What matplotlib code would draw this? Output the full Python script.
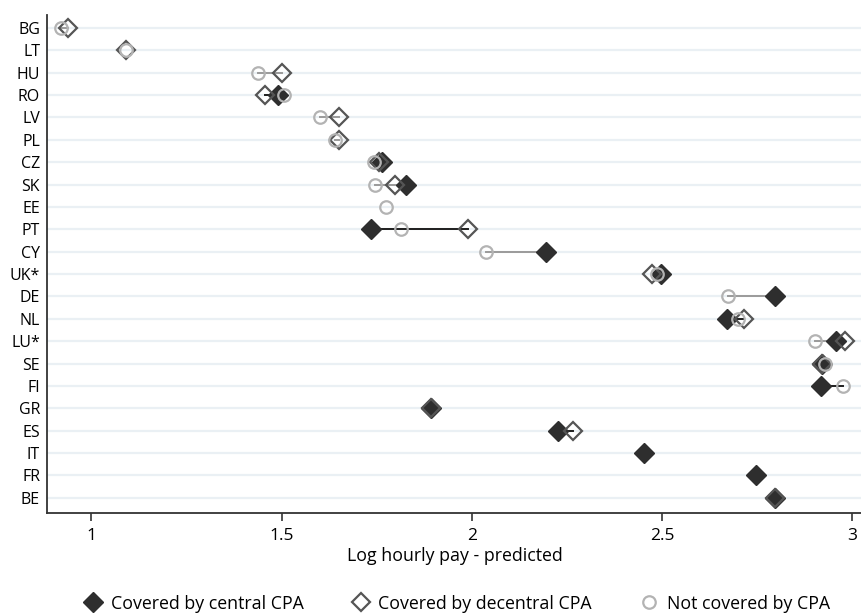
# === IMPORTS ===
import matplotlib
matplotlib.use("Agg")
import matplotlib.pyplot as plt
import numpy as np

# === DATA ===
countries = ["BG", "LT", "HU", "RO", "LV", "PL", "CZ", "SK", "EE", "PT", "CY",
             "UK*", "DE", "NL", "LU*", "SE", "FI", "GR", "ES", "IT", "FR", "BE"]
# nan = no estimate for that group
central = [np.nan, np.nan, np.nan, 1.490, np.nan, np.nan, 1.765, 1.828, np.nan, 1.734, 2.195,
           2.497, 2.797, 2.670, 2.957, 2.922, 2.918, 1.893, 2.226, 2.454, 2.747, 2.797]
decentral = [0.939, 1.092, 1.502, 1.457, 1.651, 1.652, 1.755, 1.799, np.nan, 1.991, np.nan,
             2.473, np.nan, 2.716, 2.982, 2.922, np.nan, 1.893, 2.265, np.nan, np.nan, 2.797]
not_covered = [0.919, 1.092, 1.438, 1.506, 1.602, 1.640, 1.742, 1.746, 1.775, 1.813, 2.038,
               2.486, 2.673, 2.701, 2.902, 2.929, 2.977, np.nan, np.nan, np.nan, np.nan, np.nan]
# colour of the connecting range line: "k" dark, "g" grey
link_type = ["g", "g", "g", "k", "g", "g", "g", "g", "g", "k", "g",
             "k", "g", "k", "g", "k", "k", "g", "k", "g", "g", "g"]

# === STYLE ===
plt.rcParams["font.family"] = ["Open Sans", "DejaVu Sans"]
col_central = "#2e2e2e"
col_decentral = "#555555"
col_notcov = "#b3b3b3"
col_grid = "#eaf0f4"
link_colors = {"k": "#1e1e1e", "g": "#9a9a9a"}

fig = plt.figure(figsize=(8.62, 6.15), dpi=100)
ax = fig.add_axes([0.0545, 0.1663, 0.9455, 0.8093])

y = np.arange(1, len(countries) + 1)
c = np.array(central)
d = np.array(decentral)
n = np.array(not_covered)

for yi in y:
    ax.axhline(yi, color=col_grid, lw=1.6, zorder=0)

# range lines
vals = np.vstack([c, d, n])
lo = np.nanmin(vals, axis=0)
hi = np.nanmax(vals, axis=0)
for i, yi in enumerate(y):
    if hi[i] > lo[i]:
        ax.plot([lo[i], hi[i]], [yi, yi], color=link_colors[link_type[i]], lw=1.4, zorder=2)

ax.plot(c, y, "D", ms=9.8, color=col_central, mec=col_central, ls="none", zorder=3)
ax.plot(d, y, "D", ms=9.2, mfc="none", mec=col_decentral, mew=1.6, ls="none", zorder=4)
ax.plot(n, y, "o", ms=9, mfc="none", mec=col_notcov, mew=1.6, ls="none", zorder=5)

ax.set_xlim(0.883, 3.026)
ax.set_ylim(22.67, 0.42)
ax.set_yticks(y)
ax.set_yticklabels(countries, fontsize=11.5)
ax.set_xticks([1, 1.5, 2, 2.5, 3])
ax.set_xticklabels(["1", "1.5", "2", "2.5", "3"], fontsize=12.5)
ax.tick_params(axis="y", length=0, pad=5)
ax.tick_params(axis="x", length=6, width=1.2, color="#333333", pad=5)
ax.set_xlabel("Log hourly pay - predicted", fontsize=12.8, labelpad=2)
for s in ["top", "right"]:
    ax.spines[s].set_visible(False)
for s in ["left", "bottom"]:
    ax.spines[s].set_linewidth(1.3)
    ax.spines[s].set_color("#333333")

# legend
h1, = ax.plot([], [], "D", ms=9.8, color=col_central)
h2, = ax.plot([], [], "D", ms=9.2, mfc="none", mec=col_decentral, mew=1.6)
h3, = ax.plot([], [], "o", ms=9, mfc="none", mec=col_notcov, mew=1.6)
fig.legend([h1, h2, h3], ["Covered by central CPA", "Covered by decentral CPA", "Not covered by CPA"],
           loc="lower center", bbox_to_anchor=(0.529, -0.022), ncol=3, frameon=False,
           fontsize=12.8, columnspacing=2.6, handletextpad=0.4, handlelength=1.2)

fig.savefig("out.png", dpi=100)
